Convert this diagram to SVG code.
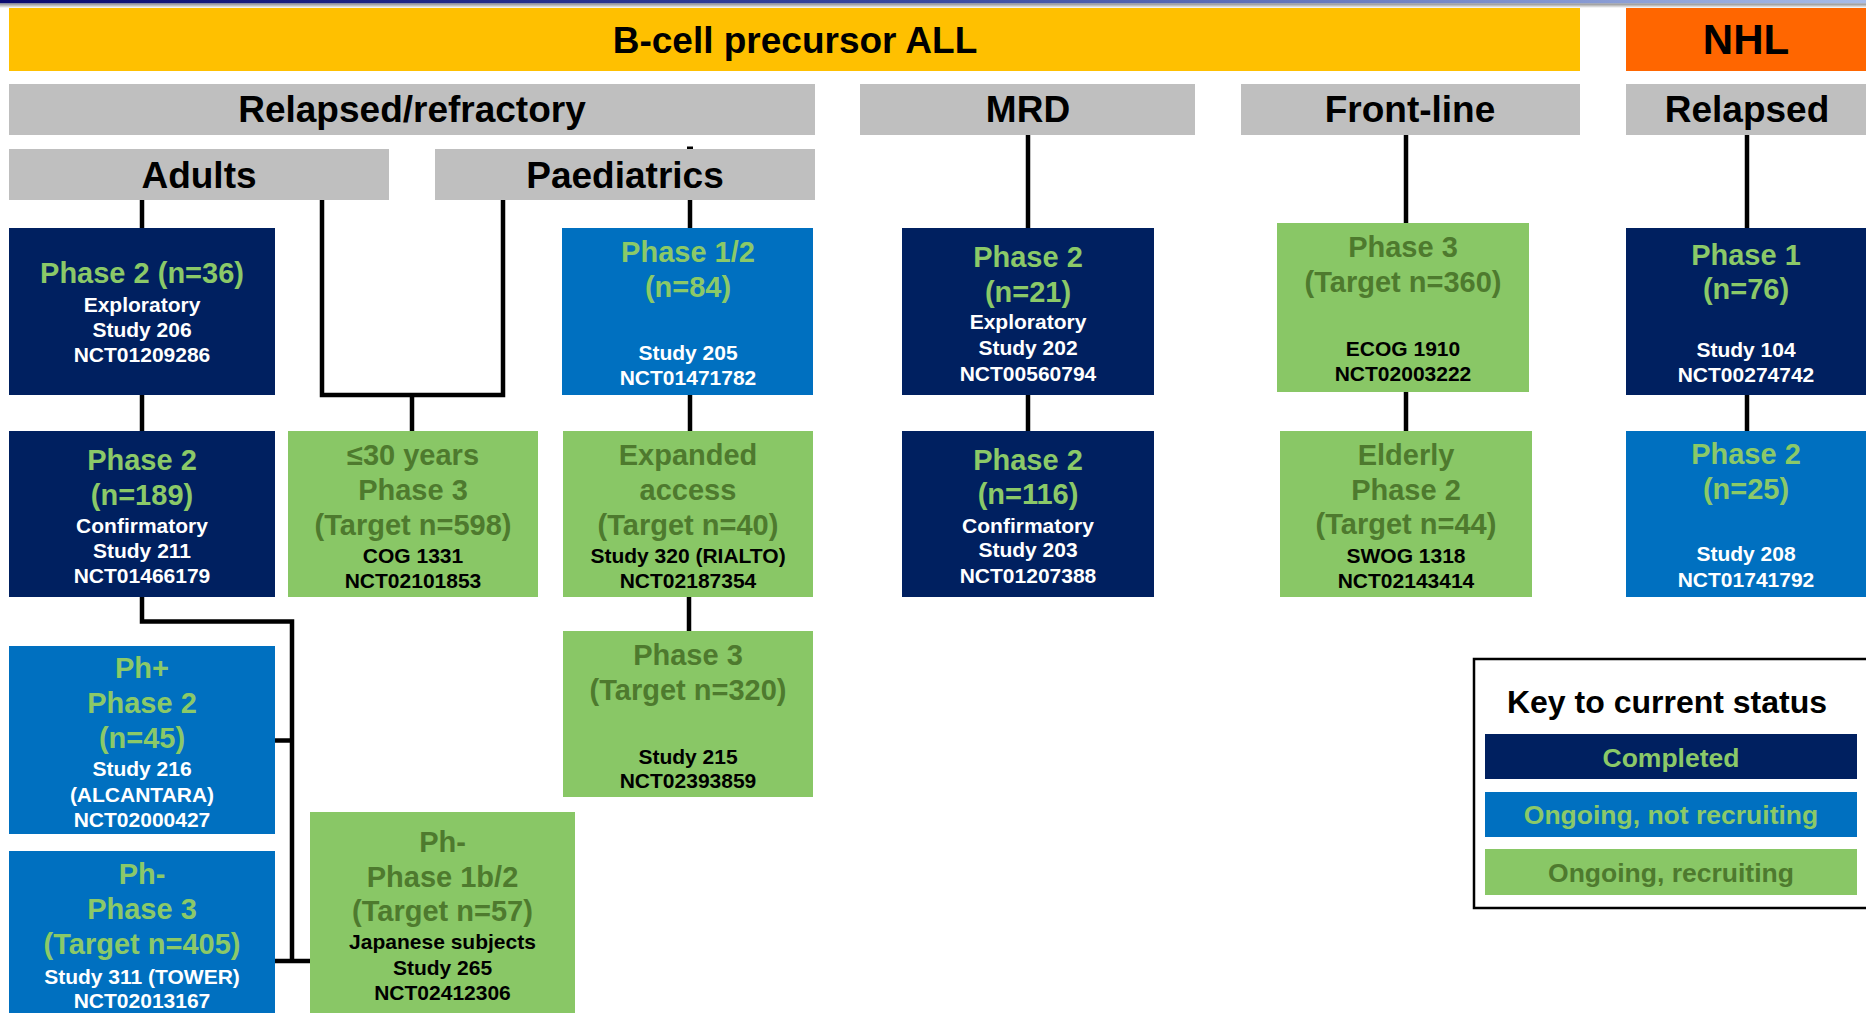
<svg xmlns="http://www.w3.org/2000/svg" width="1866" height="1013" viewBox="0 0 1866 1013">
<defs>
<linearGradient id="topband" x1="0" y1="0" x2="1" y2="0">
<stop offset="0" stop-color="#0a0a70"/>
<stop offset="0.5" stop-color="#3a4aa0"/>
<stop offset="1" stop-color="#a8bce8"/>
</linearGradient>
<linearGradient id="fade" x1="0" y1="0" x2="0" y2="1">
<stop offset="0" stop-color="#8a8a8a"/>
<stop offset="1" stop-color="#ffffff"/>
</linearGradient>
<style>
text{font-family:"Liberation Sans",Arial,sans-serif;font-weight:bold;text-anchor:middle}
.hdr{font-size:37px;fill:#000}
.top{font-size:37px;fill:#000}
.navy{fill:#002060}
.blue{fill:#0070C0}
.green{fill:#89C766}
.gray{fill:#BFBFBF}
.tg{font-size:29px;fill:#8BC968}
.td{font-size:29px;fill:#4E7A2E}
.tw{font-size:21px;fill:#fff}
.tk{font-size:21px;fill:#000}
.conn{fill:none;stroke:#000;stroke-width:4.5}
.lg{font-size:26.5px}
</style>
</defs>
<rect x="0" y="0" width="1866" height="1013" fill="#fff"/>
<rect x="0" y="0" width="1866" height="3.5" fill="url(#topband)"/>
<rect x="0" y="3.5" width="1866" height="4.5" fill="url(#fade)"/>

<g id="hdr-ball">
<rect x="9" y="8" width="1571" height="63" fill="#FFC000"/>
<text class="top" x="795" y="53">B-cell precursor ALL</text>
</g>
<g id="hdr-nhl">
<rect x="1626" y="8" width="245" height="63" fill="#FF6600"/>
<text class="top" x="1746" y="54" style="font-size:42px">NHL</text>
</g>
<g id="hdr-rr">
<rect class="gray" x="9" y="84" width="806" height="51"/>
<text class="hdr" x="412" y="122">Relapsed/refractory</text>
</g>
<g id="hdr-mrd">
<rect class="gray" x="860" y="84" width="335" height="51"/>
<text class="hdr" x="1028" y="122">MRD</text>
</g>
<g id="hdr-front">
<rect class="gray" x="1241" y="84" width="339" height="51"/>
<text class="hdr" x="1410" y="122">Front-line</text>
</g>
<g id="hdr-relapsed">
<rect class="gray" x="1626" y="84" width="245" height="51"/>
<text class="hdr" x="1747" y="122">Relapsed</text>
</g>
<g id="hdr-adults">
<rect class="gray" x="9" y="149" width="380" height="51"/>
<text class="hdr" x="199" y="188">Adults</text>
</g>
<g id="hdr-paed">
<rect class="gray" x="435" y="149" width="380" height="51"/>
<text class="hdr" x="625" y="188">Paediatrics</text>
</g>

<g id="connectors">
<path class="conn" d="M142,200 V228"/>
<path class="conn" d="M322,200 V395 H503 V200"/>
<path class="conn" d="M412,395 V431"/>
<path class="conn" d="M690,200 V228"/>
<path d="M687,146.5 H693 V149 H687 Z" fill="#000"/>
<path class="conn" d="M142,395 V431"/>
<path class="conn" d="M690,395 V431"/>
<path class="conn" d="M689,597 V631"/>
<path class="conn" d="M142,597 V621.5 H292 V961"/>
<path class="conn" d="M275,740.5 H292"/>
<path class="conn" d="M275,961 H310"/>
<path class="conn" d="M1028,135 V228"/>
<path class="conn" d="M1028,395 V431"/>
<path class="conn" d="M1406,135 V223"/>
<path class="conn" d="M1406,392 V431"/>
<path class="conn" d="M1747,135 V228"/>
<path class="conn" d="M1747,395 V431"/>
</g>

<g id="n36">
<rect class="navy" x="9" y="228" width="266" height="167"/>
<text class="tg" x="142" y="283">Phase 2 (n=36)</text>
<text class="tw" x="142" y="312">Exploratory</text>
<text class="tw" x="142" y="337">Study 206</text>
<text class="tw" x="142" y="362">NCT01209286</text>
</g>
<g id="p12">
<rect class="blue" x="562" y="228" width="251" height="167"/>
<text class="tg" x="688" y="262">Phase 1/2</text>
<text class="tg" x="688" y="297">(n=84)</text>
<text class="tw" x="688" y="360">Study 205</text>
<text class="tw" x="688" y="385">NCT01471782</text>
</g>
<g id="n21">
<rect class="navy" x="902" y="228" width="252" height="167"/>
<text class="tg" x="1028" y="267">Phase 2</text>
<text class="tg" x="1028" y="302">(n=21)</text>
<text class="tw" x="1028" y="329">Exploratory</text>
<text class="tw" x="1028" y="355">Study 202</text>
<text class="tw" x="1028" y="381">NCT00560794</text>
</g>
<g id="p3-360">
<rect class="green" x="1277" y="223" width="252" height="169"/>
<text class="td" x="1403" y="257">Phase 3</text>
<text class="td" x="1403" y="292">(Target n=360)</text>
<text class="tk" x="1403" y="356">ECOG 1910</text>
<text class="tk" x="1403" y="381">NCT02003222</text>
</g>
<g id="n76">
<rect class="navy" x="1626" y="228" width="245" height="167"/>
<text class="tg" x="1746" y="265">Phase 1</text>
<text class="tg" x="1746" y="299">(n=76)</text>
<text class="tw" x="1746" y="357">Study 104</text>
<text class="tw" x="1746" y="382">NCT00274742</text>
</g>
<g id="n189">
<rect class="navy" x="9" y="431" width="266" height="166"/>
<text class="tg" x="142" y="470">Phase 2</text>
<text class="tg" x="142" y="505">(n=189)</text>
<text class="tw" x="142" y="533">Confirmatory</text>
<text class="tw" x="142" y="558">Study 211</text>
<text class="tw" x="142" y="583">NCT01466179</text>
</g>
<g id="y30">
<rect class="green" x="288" y="431" width="250" height="166"/>
<text class="td" x="413" y="465">≤30 years</text>
<text class="td" x="413" y="500">Phase 3</text>
<text class="td" x="413" y="535">(Target n=598)</text>
<text class="tk" x="413" y="563">COG 1331</text>
<text class="tk" x="413" y="588">NCT02101853</text>
</g>
<g id="exp">
<rect class="green" x="563" y="431" width="250" height="166"/>
<text class="td" x="688" y="465">Expanded</text>
<text class="td" x="688" y="500">access</text>
<text class="td" x="688" y="535">(Target n=40)</text>
<text class="tk" x="688" y="563">Study 320 (RIALTO)</text>
<text class="tk" x="688" y="588">NCT02187354</text>
</g>
<g id="n116">
<rect class="navy" x="902" y="431" width="252" height="166"/>
<text class="tg" x="1028" y="470">Phase 2</text>
<text class="tg" x="1028" y="504">(n=116)</text>
<text class="tw" x="1028" y="533">Confirmatory</text>
<text class="tw" x="1028" y="557">Study 203</text>
<text class="tw" x="1028" y="583">NCT01207388</text>
</g>
<g id="eld">
<rect class="green" x="1280" y="431" width="252" height="166"/>
<text class="td" x="1406" y="465">Elderly</text>
<text class="td" x="1406" y="500">Phase 2</text>
<text class="td" x="1406" y="534">(Target n=44)</text>
<text class="tk" x="1406" y="563">SWOG 1318</text>
<text class="tk" x="1406" y="588">NCT02143414</text>
</g>
<g id="n25">
<rect class="blue" x="1626" y="431" width="245" height="166"/>
<text class="tg" x="1746" y="464">Phase 2</text>
<text class="tg" x="1746" y="499">(n=25)</text>
<text class="tw" x="1746" y="561">Study 208</text>
<text class="tw" x="1746" y="587">NCT01741792</text>
</g>
<g id="p3-320">
<rect class="green" x="563" y="631" width="250" height="166"/>
<text class="td" x="688" y="665">Phase 3</text>
<text class="td" x="688" y="700">(Target n=320)</text>
<text class="tk" x="688" y="764">Study 215</text>
<text class="tk" x="688" y="788">NCT02393859</text>
</g>
<g id="phplus">
<rect class="blue" x="9" y="646" width="266" height="188"/>
<text class="tg" x="142" y="678">Ph+</text>
<text class="tg" x="142" y="713">Phase 2</text>
<text class="tg" x="142" y="748">(n=45)</text>
<text class="tw" x="142" y="776">Study 216</text>
<text class="tw" x="142" y="802">(ALCANTARA)</text>
<text class="tw" x="142" y="827">NCT02000427</text>
</g>
<g id="phminus">
<rect class="blue" x="9" y="851" width="266" height="170"/>
<text class="tg" x="142" y="884">Ph-</text>
<text class="tg" x="142" y="919">Phase 3</text>
<text class="tg" x="142" y="954">(Target n=405)</text>
<text class="tw" x="142" y="984">Study 311 (TOWER)</text>
<text class="tw" x="142" y="1008">NCT02013167</text>
</g>
<g id="ph1b2">
<rect class="green" x="310" y="812" width="265" height="210"/>
<text class="td" x="442.5" y="852">Ph-</text>
<text class="td" x="442.5" y="887">Phase 1b/2</text>
<text class="td" x="442.5" y="921">(Target n=57)</text>
<text class="tk" x="442.5" y="949">Japanese subjects</text>
<text class="tk" x="442.5" y="975">Study 265</text>
<text class="tk" x="442.5" y="1000">NCT02412306</text>
</g>

<g id="legend">
<rect x="1474" y="659" width="400" height="249" fill="#fff" stroke="#000" stroke-width="2.5"/>
<text x="1667" y="713" style="font-size:32px;fill:#000">Key to current status</text>
<rect class="navy" x="1485" y="734" width="372" height="45"/>
<text class="lg" x="1671" y="767" fill="#8BC968">Completed</text>
<rect class="blue" x="1485" y="792" width="372" height="45"/>
<text class="lg" x="1671" y="824" fill="#8BC968">Ongoing, not recruiting</text>
<rect class="green" x="1485" y="849" width="372" height="46"/>
<text class="lg" x="1671" y="882" fill="#4E7A2E">Ongoing, recruiting</text>
</g>
</svg>
